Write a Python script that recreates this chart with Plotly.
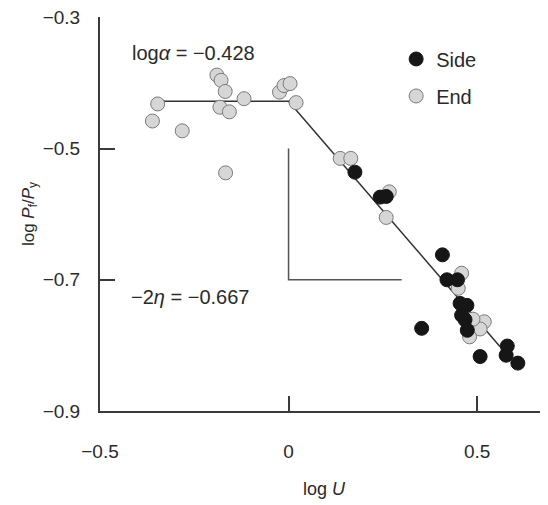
import plotly.graph_objects as go

# End (grey) points
end_x = [-0.190, -0.179, -0.168, -0.347, -0.361, -0.282, -0.182, -0.157, -0.118,
         -0.024, -0.012, 0.004, 0.020, -0.167,
         0.137, 0.165, 0.267, 0.259, 0.459, 0.450, 0.519, 0.508, 0.480, 0.489]
end_y = [-0.388, -0.396, -0.413, -0.432, -0.458, -0.473, -0.437, -0.444, -0.424,
         -0.414, -0.404, -0.401, -0.430, -0.537,
         -0.515, -0.515, -0.566, -0.605, -0.690, -0.713, -0.764, -0.775, -0.787, -0.760]

# Side (black) points
side_x = [0.176, 0.243, 0.259, 0.408, 0.420, 0.448, 0.455, 0.473, 0.459, 0.468,
          0.474, 0.353, 0.508, 0.580, 0.577, 0.608]
side_y = [-0.536, -0.574, -0.573, -0.662, -0.700, -0.700, -0.736, -0.739, -0.754, -0.761,
          -0.777, -0.774, -0.817, -0.801, -0.815, -0.827]

# Bilinear fit: log(alpha) = -0.428, slope -2*eta = -0.667
fit_x = [-0.336, 0.0, 0.561]
fit_y = [-0.428, -0.428, -0.802]

# Slope triangle
tri_x = [0.0, 0.0, 0.3]
tri_y = [-0.5, -0.7, -0.7]

x_ticks = [-0.5, 0, 0.5]
x_ticktext = ["\u22120.5", "0", "0.5"]
y_ticks = [-0.9, -0.7, -0.5, -0.3]
y_ticktext = ["\u22120.9", "\u22120.7", "\u22120.5", "\u22120.3"]

FONT = "Liberation Sans, Arial, sans-serif"
TXT = "#2a2a2a"
AX = "#3a3a3a"

fig = go.Figure()
fig.add_trace(go.Scatter(x=fit_x, y=fit_y, mode="lines", line=dict(color="#333", width=1.5),
                         showlegend=False, hoverinfo="skip"))
fig.add_trace(go.Scatter(x=tri_x, y=tri_y, mode="lines", line=dict(color="#555", width=1.5),
                         showlegend=False, hoverinfo="skip"))
fig.add_trace(go.Scatter(x=end_x, y=end_y, mode="markers", name="End", legendgroup="e", legendrank=2,
                         marker=dict(size=14, color="#d6d6d6", line=dict(color="#7a7a7a", width=1))))
fig.add_trace(go.Scatter(x=side_x, y=side_y, mode="markers", name="Side", legendgroup="s", legendrank=1,
                         marker=dict(size=14, color="#161616", line=dict(color="#161616", width=1))))

fig.add_annotation(x=-0.251, y=-0.355, xref="x", yref="y", showarrow=False,
                   text="log<i>\u03b1</i> = \u22120.428", font=dict(size=20, family=FONT, color=TXT))
fig.add_annotation(x=-0.261, y=-0.726, xref="x", yref="y", showarrow=False,
                   text="\u22122<i>\u03b7</i> = \u22120.667", font=dict(size=20, family=FONT, color=TXT))

# page body has an 8px offset; figure is sized/margined to compensate
fig.update_layout(
    width=540, height=497,
    margin=dict(l=92, r=0, t=9, b=94, autoexpand=False),
    paper_bgcolor="white", plot_bgcolor="white",
    font=dict(family=FONT, size=19, color=TXT),
    legend=dict(x=0.661, y=0.943, xanchor="left", yanchor="top", bgcolor="rgba(0,0,0,0)",
                font=dict(size=20), traceorder="grouped", tracegroupgap=8, itemsizing="trace"),
    xaxis=dict(range=[-0.5, 0.688], showgrid=False, zeroline=False, showline=True,
               linecolor=AX, linewidth=2, ticks="inside", ticklen=15, tickwidth=2, tickcolor=AX,
               tickvals=x_ticks, ticktext=x_ticktext, ticklabelstandoff=22,
               title=dict(text="log <i>U</i>", font=dict(size=18), standoff=22)),
    yaxis=dict(range=[-0.9, -0.2995], showgrid=False, zeroline=False, showline=True,
               linecolor=AX, linewidth=2, ticks="inside", ticklen=15, tickwidth=2, tickcolor=AX,
               tickvals=y_ticks, ticktext=y_ticktext, ticklabelstandoff=14,
               ticklabeloverflow="allow",
               title=dict(text="log <i>P</i><sub>f</sub>/<i>P</i><sub>y</sub>", font=dict(size=17), standoff=4)),
)

fig.write_html("out.html")
